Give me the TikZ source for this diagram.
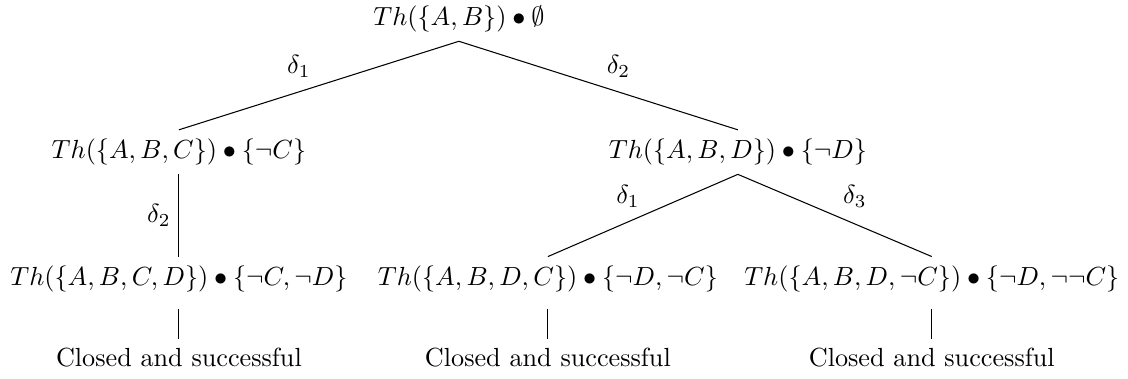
\documentclass[tikz,border=0pt]{standalone}
\usepackage{amsmath}
\usepackage{amssymb}

\begin{document}
\begin{tikzpicture}[
    theory/.style={
      inner sep=3.3pt
    },
    verdict/.style={
      inner sep=3.3pt
    },
    branch/.style={
      line width=0.4pt
    },
    dlabel/.style={
      inner sep=3pt
    }
  ]
  \useasboundingbox (0,0) rectangle (15.13,-5.08);

  % root
  \node[theory] (root) at (6.155,-0.255) {$Th(\{A,B\}) \bullet \emptyset$};

  % first level
  \node[theory] (abc) at (2.40,-2.04) {$Th(\{A,B,C\}) \bullet \{\neg C\}$};
  \node[theory] (abd) at (9.897,-2.04) {$Th(\{A,B,D\}) \bullet \{\neg D\}$};

  % second level
  \node[theory] (abcd) at (2.40,-3.74)
    {$Th(\{A,B,C,D\}) \bullet \{\neg C,\neg D\}$};
  \node[theory] (abdc) at (7.349,-3.74)
    {$Th(\{A,B,D,C\}) \bullet \{\neg D,\neg C\}$};
  \node[theory] (abdnc) at (12.498,-3.74)
    {$Th(\{A,B,D,\neg C\}) \bullet \{\neg D,\neg\neg C\}$};

  % outcomes
  \node[verdict] (end1) at (2.40,-4.80) {Closed and successful};
  \node[verdict] (end2) at (7.349,-4.80) {Closed and successful};
  \node[verdict] (end3) at (12.498,-4.80) {Closed and successful};

  % edges
  \draw[branch] (root.south) -- node[dlabel,above left] {$\delta_1$} (abc.north);
  \draw[branch] (root.south) -- node[dlabel,above right] {$\delta_2$} (abd.north);
  \draw[branch] (abc.south) -- node[dlabel,left] {$\delta_2$} (abcd.north);
  \draw[branch] (abd.south) -- node[dlabel,above left,xshift=2pt] {$\delta_1$} (abdc.north);
  \draw[branch] (abd.south) -- node[dlabel,above right] {$\delta_3$} (abdnc.north);
  \draw[branch,shorten <=3pt] (abcd.south) -- (end1.north);
  \draw[branch,shorten <=3pt] (abdc.south) -- (end2.north);
  \draw[branch,shorten <=3pt] (abdnc.south) -- (end3.north);

\end{tikzpicture}
\end{document}
